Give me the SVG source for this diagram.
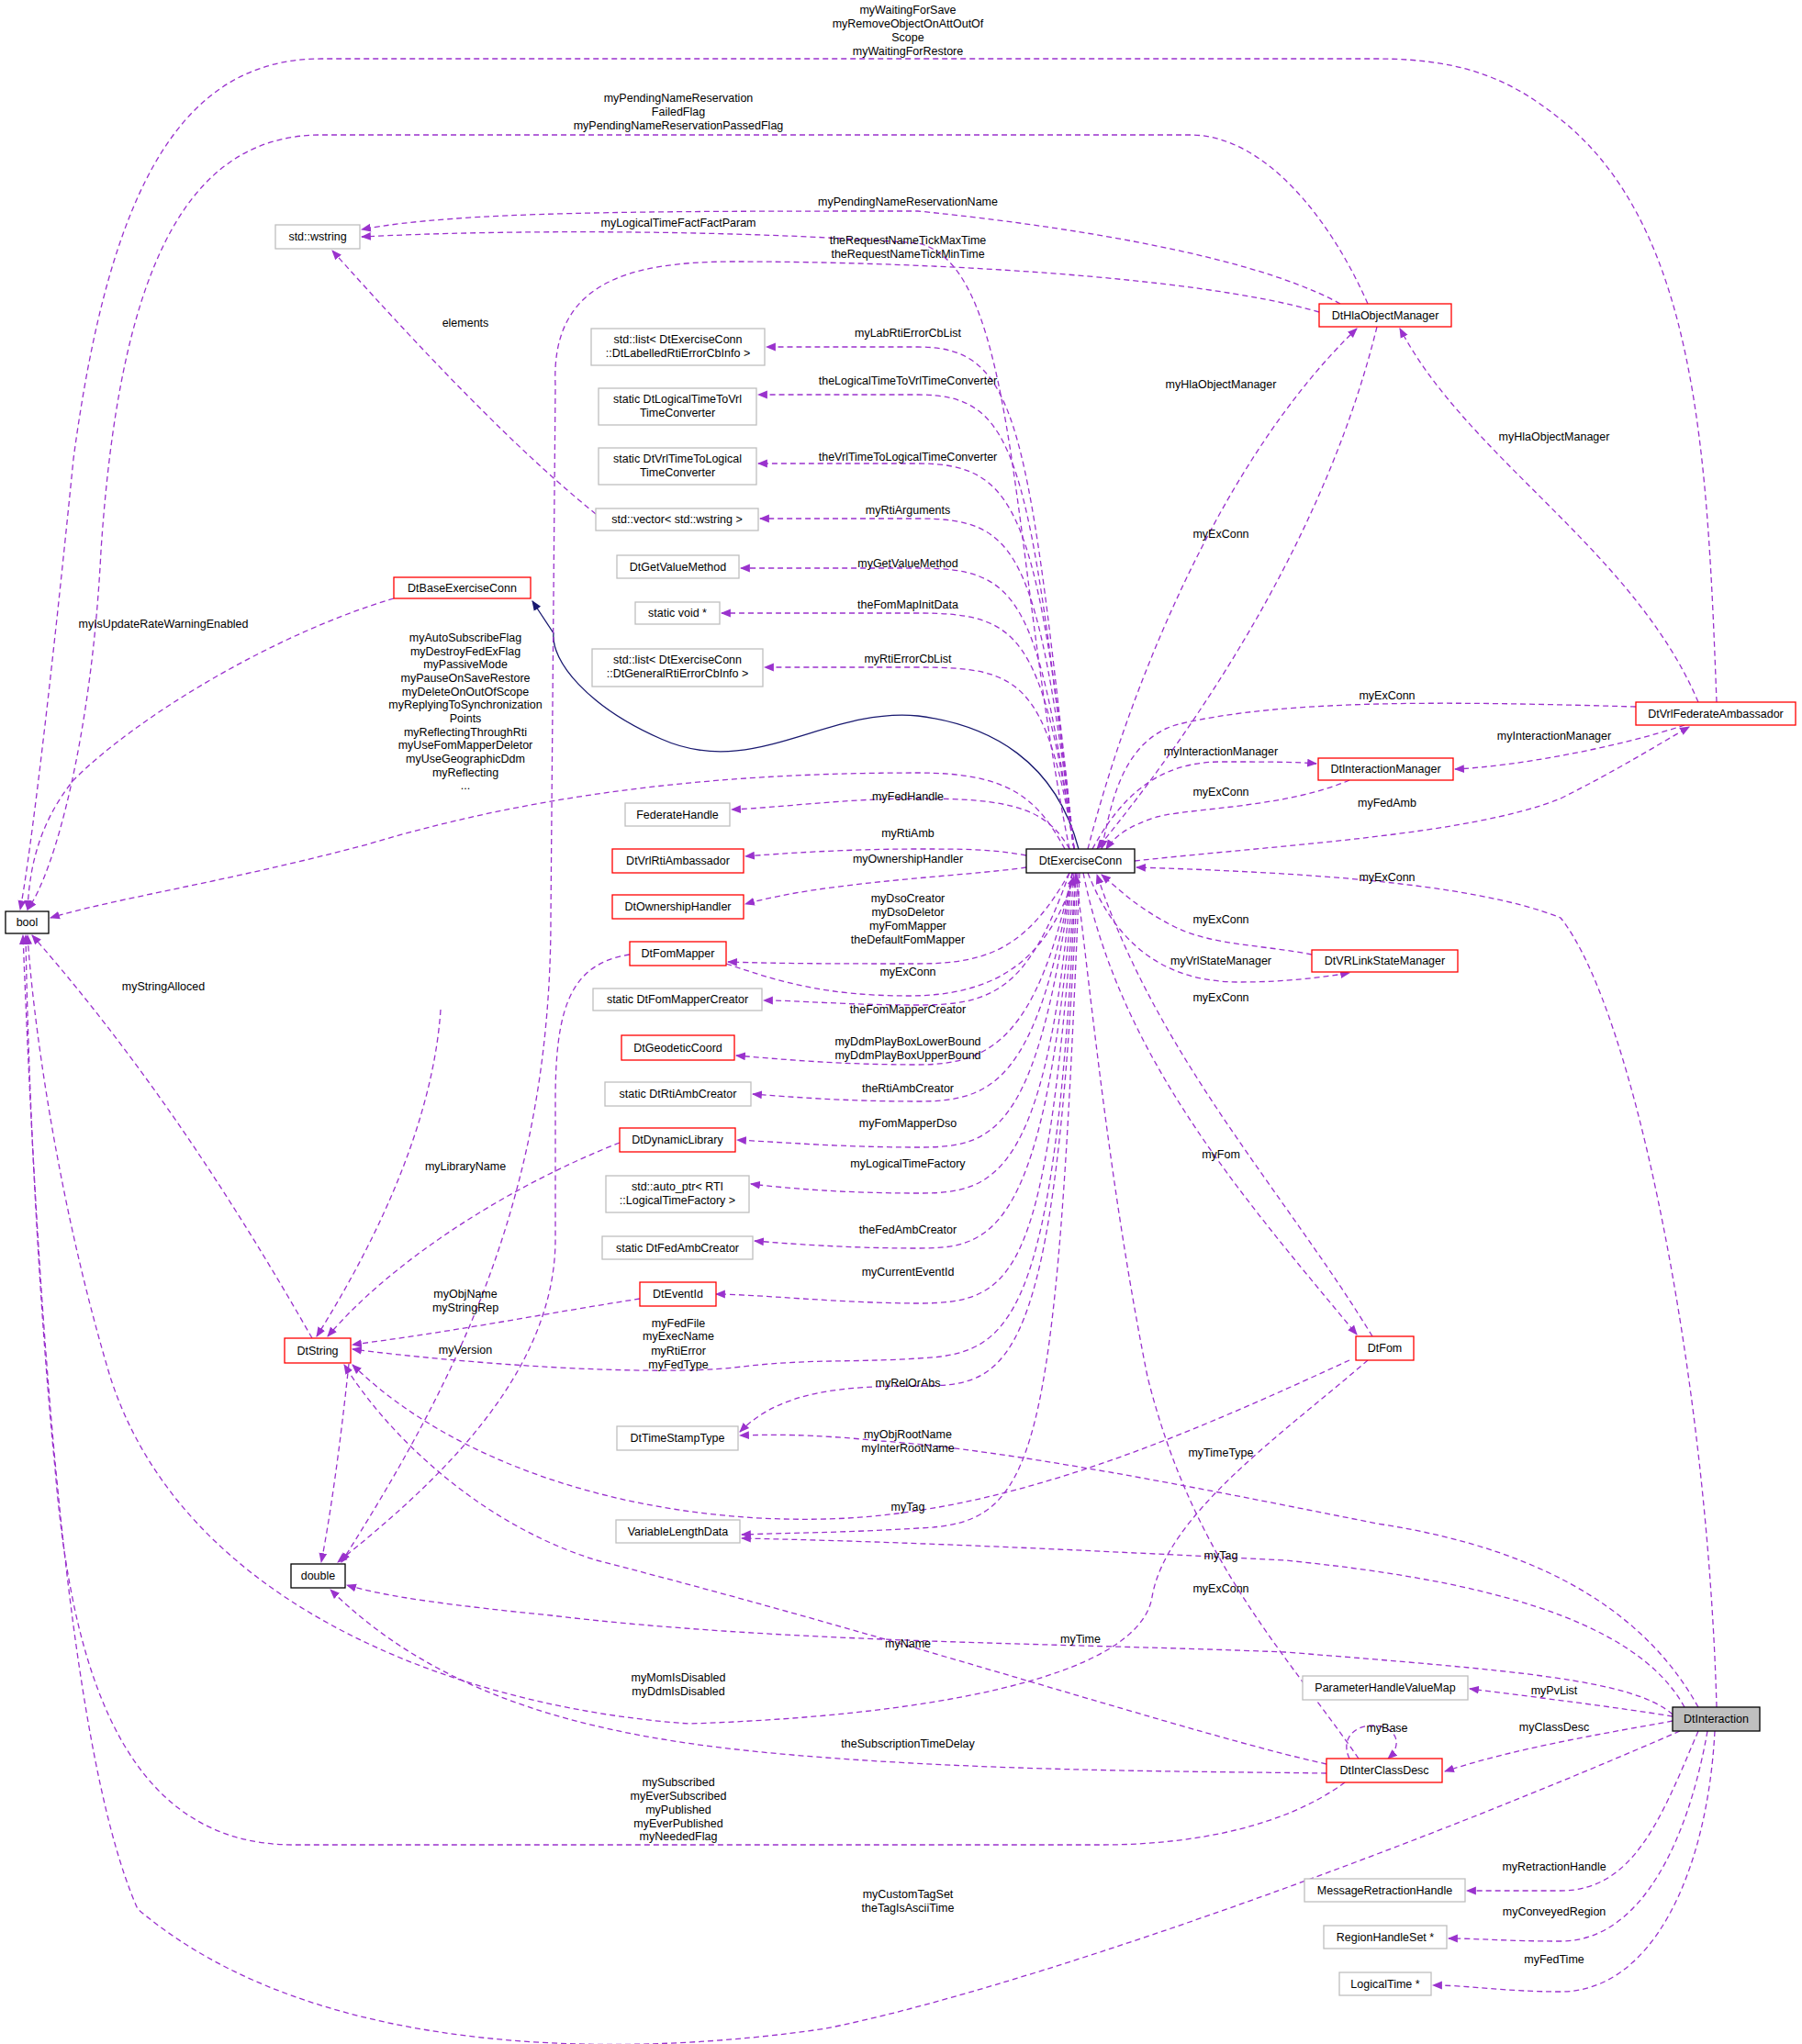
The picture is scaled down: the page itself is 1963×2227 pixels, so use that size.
<svg xmlns="http://www.w3.org/2000/svg" width="1963" height="2227" viewBox="0 0 1963 2227">
<style>
text{font-family:"Liberation Sans",Arial,sans-serif;font-size:12.5px;fill:#000}
.n text{text-anchor:middle}
.l{text-anchor:middle}
.g{fill:#fff;stroke:#bfbfbf;stroke-width:1.3}
.r{fill:#fff;stroke:#ff0000;stroke-width:1.3}
.b{fill:#fff;stroke:#000;stroke-width:1.3}
.e path{fill:none;stroke:#9a32cd;stroke-width:1.3;stroke-dasharray:6,4;marker-end:url(#a)}
.e path.s{stroke:#191970;stroke-dasharray:none;marker-end:url(#an)}
</style>
<defs>
<marker id="a" viewBox="0 0 10 10" refX="9" refY="5" markerWidth="11" markerHeight="11" markerUnits="userSpaceOnUse" orient="auto"><path d="M0,1 L10,5 L0,9 z" fill="#9a32cd"/></marker>
<marker id="an" viewBox="0 0 10 10" refX="9" refY="5" markerWidth="11" markerHeight="11" markerUnits="userSpaceOnUse" orient="auto"><path d="M0,1 L10,5 L0,9 z" fill="#191970"/></marker>
</defs>
<rect width="1963" height="2227" fill="#fff"/>
<g class="e" id="edges">
<path class="s" d="M1175,925 C1150,830 1080,790 1000,780 C900,770 820,850 720,805 C640,770 600,720 603,690 L580,655"/>
<path d="M1170,925 C1120,460 1110,378 1000,378 C920,378 880,378 835,378"/>
<path d="M1170,925 C1120,500 1110,430 1000,430 C920,430 870,430 826,430"/>
<path d="M1170,925 C1130,560 1110,505 1000,505 C920,505 870,505 826,505"/>
<path d="M1170,925 C1130,600 1110,565 1000,565 C920,565 870,565 828,565"/>
<path d="M1170,925 C1130,650 1110,619 1000,619 C920,619 850,619 807,619"/>
<path d="M1170,925 C1135,690 1110,668 1000,668 C900,668 830,668 786,668"/>
<path d="M1170,925 C1140,740 1110,727 1000,727 C920,727 870,727 833,727"/>
<path d="M1165,925 C1140,880 1100,870 1000,870 C920,870 850,880 797,882"/>
<path d="M1118,932 C1080,925 1050,925 1000,925 C920,925 850,930 812,933"/>
<path d="M1118,945 C1050,955 900,960 812,985"/>
<path d="M1165,951 C1120,1030 1080,1050 1000,1050 C920,1050 850,1050 793,1048"/>
<path d="M791,1050 C850,1070 900,1085 990,1085 C1080,1085 1140,1050 1170,955"/>
<path d="M1165,951 C1120,1080 1080,1095 1000,1095 C920,1095 870,1090 832,1090"/>
<path d="M1168,951 C1130,1130 1080,1160 1000,1160 C920,1160 860,1155 802,1150"/>
<path d="M1168,951 C1130,1180 1080,1200 1000,1200 C920,1200 860,1195 820,1192"/>
<path d="M1168,951 C1130,1240 1080,1250 1000,1250 C920,1250 860,1245 803,1242"/>
<path d="M1168,951 C1140,1290 1080,1300 1000,1300 C920,1300 860,1295 818,1290"/>
<path d="M1170,951 C1140,1350 1080,1360 1000,1360 C920,1360 860,1355 822,1352"/>
<path d="M1172,951 C1140,1390 1110,1420 1000,1420 C920,1420 820,1410 780,1410"/>
<path d="M1172,951 C1150,1450 1100,1475 1000,1480 C920,1485 880,1480 800,1490 C700,1500 500,1485 384,1470"/>
<path d="M1174,951 C1150,1500 1100,1510 1000,1510 C920,1510 850,1515 806,1560"/>
<path d="M1176,951 C1150,1600 1130,1660 1000,1665 C920,1670 860,1670 808,1672"/>
<path d="M1160,925 C1130,870 1100,842 1000,842 C800,842 600,860 400,920 C250,960 120,980 55,1000"/>
<path d="M1165,925 C1100,600 1110,290 1000,265 C800,250 550,250 394,258"/>
<path d="M1185,925 C1230,750 1330,500 1478,358"/>
<path d="M1500,356 C1450,560 1330,760 1195,925"/>
<path d="M1850,765 C1780,600 1600,500 1525,358"/>
<path d="M1782,770 C1600,765 1400,760 1280,790 C1220,810 1210,880 1200,925"/>
<path d="M1835,790 C1760,815 1650,835 1585,838"/>
<path d="M1236,938 C1400,920 1600,910 1700,870 C1760,840 1800,815 1840,792"/>
<path d="M1190,925 C1220,870 1260,830 1330,830 C1380,830 1410,830 1434,832"/>
<path d="M1470,850 C1400,880 1300,880 1260,890 C1230,900 1215,910 1205,925"/>
<path d="M1429,1040 C1380,1030 1320,1030 1280,1010 C1240,990 1220,970 1200,953"/>
<path d="M1185,951 C1220,1040 1280,1070 1350,1070 C1400,1070 1440,1065 1470,1060"/>
<path d="M1870,1860 C1860,1500 1780,1100 1700,1000 C1600,960 1400,950 1238,945"/>
<path d="M1180,951 C1220,1150 1350,1300 1478,1454"/>
<path d="M1495,1456 C1400,1300 1260,1150 1195,953"/>
<path d="M1470,1482 C1300,1560 1100,1650 900,1655 C700,1660 500,1600 384,1487"/>
<path d="M1490,1482 C1400,1560 1270,1650 1255,1740 C1240,1830 1000,1870 750,1878 C500,1860 200,1750 120,1500 C60,1300 35,1100 30,1019"/>
<path d="M1850,1860 C1800,1770 1700,1690 1500,1660 C1300,1620 1100,1580 960,1570 C880,1562 840,1563 806,1564"/>
<path d="M1835,1860 C1780,1760 1600,1720 1400,1700 C1200,1690 1000,1680 808,1676"/>
<path d="M1480,1916 C1400,1800 1300,1700 1250,1500 C1210,1300 1190,1100 1172,953"/>
<path d="M1822,1868 C1780,1830 1650,1820 1400,1800 C1150,1790 850,1790 600,1760 C500,1750 420,1740 378,1727"/>
<path d="M1445,1922 C1300,1890 1000,1790 650,1700 C520,1660 420,1560 375,1487"/>
<path d="M1445,1932 C1300,1930 1100,1930 900,1915 C700,1900 500,1870 360,1732"/>
<path d="M1465,1942 C1400,1990 1300,2010 1200,2010 L320,2010 C150,2010 80,1850 60,1600 C40,1400 30,1150 28,1019"/>
<path d="M1822,1870 C1760,1860 1680,1850 1601,1840"/>
<path d="M1822,1875 C1740,1890 1650,1905 1574,1930"/>
<path d="M1830,1886 C1500,2030 1100,2170 900,2210 C700,2240 350,2250 150,2080 C70,1900 40,1400 25,1019"/>
<path d="M1850,1886 C1810,1980 1780,2060 1700,2060 C1650,2060 1620,2060 1598,2060"/>
<path d="M1860,1886 C1840,2000 1790,2115 1700,2115 C1640,2115 1610,2112 1578,2112"/>
<path d="M1868,1886 C1860,2040 1800,2170 1700,2170 C1640,2170 1600,2163 1561,2163"/>
<path d="M1470,1916 C1460,1895 1475,1880 1495,1880 C1520,1880 1530,1900 1512,1916"/>
<path d="M1490,331 C1450,240 1380,150 1300,147 L350,147 C200,147 130,300 110,600 C100,800 60,950 30,991"/>
<path d="M1870,765 C1860,500 1850,250 1700,130 C1650,90 1600,64 1500,64 L350,64 C200,64 120,200 80,500 C50,800 30,950 22,991"/>
<path d="M1460,331 C1350,270 1100,240 1000,230 C700,230 500,230 394,250"/>
<path d="M1437,340 C1300,300 1000,285 800,285 C680,285 600,310 605,420 L600,1000 C600,1300 500,1500 372,1702"/>
<path d="M429,652 C300,690 150,780 80,850 C40,900 32,950 30,991"/>
<path d="M340,1458 C250,1300 150,1150 35,1019"/>
<path d="M649,560 C600,520 520,450 362,273"/>
<path d="M675,1245 C560,1290 430,1370 357,1456"/>
<path d="M697,1415 C600,1430 500,1450 384,1465"/>
<path d="M686,1040 C620,1050 605,1100 605,1200 L605,1350 C605,1500 470,1620 368,1702"/>
<path d="M480,1100 C470,1250 380,1400 345,1456"/>
<path d="M380,1486 C370,1580 360,1650 350,1702"/>
</g>
<g id="labels">
<text class="l" x="989" y="15">myWaitingForSave</text>
<text class="l" x="989" y="30">myRemoveObjectOnAttOutOf</text>
<text class="l" x="989" y="45">Scope</text>
<text class="l" x="989" y="60">myWaitingForRestore</text>
<text class="l" x="739" y="111">myPendingNameReservation</text>
<text class="l" x="739" y="126">FailedFlag</text>
<text class="l" x="739" y="141">myPendingNameReservationPassedFlag</text>
<text class="l" x="989" y="224">myPendingNameReservationName</text>
<text class="l" x="739" y="247">myLogicalTimeFactFactParam</text>
<text class="l" x="989" y="266">theRequestNameTickMaxTime</text>
<text class="l" x="989" y="281">theRequestNameTickMinTime</text>
<text class="l" x="507" y="356">elements</text>
<text class="l" x="989" y="367">myLabRtiErrorCbList</text>
<text class="l" x="989" y="419">theLogicalTimeToVrlTimeConverter</text>
<text class="l" x="989" y="502">theVrlTimeToLogicalTimeConverter</text>
<text class="l" x="989" y="560">myRtiArguments</text>
<text class="l" x="989" y="618">myGetValueMethod</text>
<text class="l" x="989" y="663">theFomMapInitData</text>
<text class="l" x="989" y="722">myRtiErrorCbList</text>
<text class="l" x="1330" y="423">myHlaObjectManager</text>
<text class="l" x="1330" y="586">myExConn</text>
<text class="l" x="1693" y="480">myHlaObjectManager</text>
<text class="l" x="178" y="684">myIsUpdateRateWarningEnabled</text>
<text class="l" x="507" y="699">myAutoSubscribeFlag</text>
<text class="l" x="507" y="714">myDestroyFedExFlag</text>
<text class="l" x="507" y="728">myPassiveMode</text>
<text class="l" x="507" y="743">myPauseOnSaveRestore</text>
<text class="l" x="507" y="758">myDeleteOnOutOfScope</text>
<text class="l" x="507" y="772">myReplyingToSynchronization</text>
<text class="l" x="507" y="787">Points</text>
<text class="l" x="507" y="802">myReflectingThroughRti</text>
<text class="l" x="507" y="816">myUseFomMapperDeletor</text>
<text class="l" x="507" y="831">myUseGeographicDdm</text>
<text class="l" x="507" y="846">myReflecting</text>
<text class="l" x="507" y="860">...</text>
<text class="l" x="1511" y="762">myExConn</text>
<text class="l" x="1693" y="806">myInteractionManager</text>
<text class="l" x="1330" y="823">myInteractionManager</text>
<text class="l" x="1330" y="867">myExConn</text>
<text class="l" x="989" y="872">myFedHandle</text>
<text class="l" x="1511" y="879">myFedAmb</text>
<text class="l" x="989" y="912">myRtiAmb</text>
<text class="l" x="989" y="940">myOwnershipHandler</text>
<text class="l" x="1511" y="960">myExConn</text>
<text class="l" x="989" y="983">myDsoCreator</text>
<text class="l" x="989" y="998">myDsoDeletor</text>
<text class="l" x="989" y="1013">myFomMapper</text>
<text class="l" x="989" y="1028">theDefaultFomMapper</text>
<text class="l" x="1330" y="1006">myExConn</text>
<text class="l" x="1330" y="1051">myVrlStateManager</text>
<text class="l" x="989" y="1063">myExConn</text>
<text class="l" x="178" y="1079">myStringAlloced</text>
<text class="l" x="1330" y="1091">myExConn</text>
<text class="l" x="989" y="1104">theFomMapperCreator</text>
<text class="l" x="989" y="1139">myDdmPlayBoxLowerBound</text>
<text class="l" x="989" y="1154">myDdmPlayBoxUpperBound</text>
<text class="l" x="989" y="1190">theRtiAmbCreator</text>
<text class="l" x="989" y="1228">myFomMapperDso</text>
<text class="l" x="1330" y="1262">myFom</text>
<text class="l" x="507" y="1275">myLibraryName</text>
<text class="l" x="989" y="1272">myLogicalTimeFactory</text>
<text class="l" x="989" y="1344">theFedAmbCreator</text>
<text class="l" x="989" y="1390">myCurrentEventId</text>
<text class="l" x="507" y="1414">myObjName</text>
<text class="l" x="507" y="1429">myStringRep</text>
<text class="l" x="739" y="1446">myFedFile</text>
<text class="l" x="739" y="1460">myExecName</text>
<text class="l" x="739" y="1476">myRtiError</text>
<text class="l" x="739" y="1491">myFedType</text>
<text class="l" x="507" y="1475">myVersion</text>
<text class="l" x="989" y="1511">myRelOrAbs</text>
<text class="l" x="989" y="1567">myObjRootName</text>
<text class="l" x="989" y="1582">myInterRootName</text>
<text class="l" x="1330" y="1587">myTimeType</text>
<text class="l" x="989" y="1646">myTag</text>
<text class="l" x="1330" y="1699">myTag</text>
<text class="l" x="1330" y="1735">myExConn</text>
<text class="l" x="1177" y="1790">myTime</text>
<text class="l" x="989" y="1795">myName</text>
<text class="l" x="739" y="1832">myMomIsDisabled</text>
<text class="l" x="739" y="1847">myDdmIsDisabled</text>
<text class="l" x="1693" y="1846">myPvList</text>
<text class="l" x="1511" y="1887">myBase</text>
<text class="l" x="1693" y="1886">myClassDesc</text>
<text class="l" x="989" y="1904">theSubscriptionTimeDelay</text>
<text class="l" x="739" y="1946">mySubscribed</text>
<text class="l" x="739" y="1961">myEverSubscribed</text>
<text class="l" x="739" y="1976">myPublished</text>
<text class="l" x="739" y="1991">myEverPublished</text>
<text class="l" x="739" y="2005">myNeededFlag</text>
<text class="l" x="1693" y="2038">myRetractionHandle</text>
<text class="l" x="989" y="2068">myCustomTagSet</text>
<text class="l" x="989" y="2083">theTagIsAsciiTime</text>
<text class="l" x="1693" y="2087">myConveyedRegion</text>
<text class="l" x="1693" y="2139">myFedTime</text>
</g>
<g class="n" id="bool"><rect class="b" x="6" y="993" width="47" height="24"/><text x="29.5" y="1009">bool</text></g>
<g class="n" id="double"><rect class="b" x="317" y="1704" width="59" height="26"/><text x="346.5" y="1721">double</text></g>
<g class="n" id="DtString"><rect class="r" x="310" y="1458" width="72" height="27"/><text x="346" y="1476">DtString</text></g>
<g class="n" id="wstring"><rect class="g" x="300" y="245" width="92" height="26"/><text x="346" y="262">std::wstring</text></g>
<g class="n" id="DtBaseExerciseConn"><rect class="r" x="429" y="629" width="149" height="23"/><text x="503.5" y="645">DtBaseExerciseConn</text></g>
<g class="n" id="DtExerciseConn"><rect class="b" x="1118" y="925" width="118" height="26"/><text x="1177" y="942">DtExerciseConn</text></g>
<g class="n" id="DtHlaObjectManager"><rect class="r" x="1437" y="331" width="144" height="25"/><text x="1509" y="348">DtHlaObjectManager</text></g>
<g class="n" id="DtVrlFederateAmbassador"><rect class="r" x="1782" y="765" width="174" height="25"/><text x="1869" y="782">DtVrlFederateAmbassador</text></g>
<g class="n" id="DtInteractionManager"><rect class="r" x="1436" y="826" width="147" height="24"/><text x="1509.5" y="842">DtInteractionManager</text></g>
<g class="n" id="DtVRLinkStateManager"><rect class="r" x="1429" y="1035" width="159" height="24"/><text x="1508.5" y="1051">DtVRLinkStateManager</text></g>
<g class="n" id="LabList"><rect class="g" x="644" y="358" width="189" height="40"/><text x="738.5" y="374">std::list&lt; DtExerciseConn</text><text x="738.5" y="389">::DtLabelledRtiErrorCbInfo &gt;</text></g>
<g class="n" id="LT2Vrl"><rect class="g" x="652" y="423" width="172" height="40"/><text x="738" y="439">static DtLogicalTimeToVrl</text><text x="738" y="454">TimeConverter</text></g>
<g class="n" id="Vrl2LT"><rect class="g" x="652" y="488" width="172" height="40"/><text x="738" y="504">static DtVrlTimeToLogical</text><text x="738" y="519">TimeConverter</text></g>
<g class="n" id="vector"><rect class="g" x="649" y="554" width="177" height="24"/><text x="737.5" y="570">std::vector&lt; std::wstring &gt;</text></g>
<g class="n" id="DtGetValueMethod"><rect class="g" x="672" y="605" width="133" height="25"/><text x="738.5" y="622">DtGetValueMethod</text></g>
<g class="n" id="staticvoid"><rect class="g" x="692" y="656" width="92" height="24"/><text x="738" y="672">static void *</text></g>
<g class="n" id="GenList"><rect class="g" x="645" y="707" width="186" height="41"/><text x="738" y="723">std::list&lt; DtExerciseConn</text><text x="738" y="738">::DtGeneralRtiErrorCbInfo &gt;</text></g>
<g class="n" id="FederateHandle"><rect class="g" x="681" y="875" width="114" height="25"/><text x="738" y="892">FederateHandle</text></g>
<g class="n" id="DtVrlRtiAmbassador"><rect class="r" x="667" y="925" width="143" height="26"/><text x="738.5" y="942">DtVrlRtiAmbassador</text></g>
<g class="n" id="DtOwnershipHandler"><rect class="r" x="667" y="975" width="143" height="26"/><text x="738.5" y="992">DtOwnershipHandler</text></g>
<g class="n" id="DtFomMapper"><rect class="r" x="686" y="1026" width="105" height="26"/><text x="738.5" y="1043">DtFomMapper</text></g>
<g class="n" id="FomMapperCreator"><rect class="g" x="646" y="1077" width="184" height="24"/><text x="738" y="1093">static DtFomMapperCreator</text></g>
<g class="n" id="DtGeodeticCoord"><rect class="r" x="677" y="1128" width="123" height="27"/><text x="738.5" y="1146">DtGeodeticCoord</text></g>
<g class="n" id="RtiAmbCreator"><rect class="g" x="659" y="1179" width="159" height="26"/><text x="738.5" y="1196">static DtRtiAmbCreator</text></g>
<g class="n" id="DtDynamicLibrary"><rect class="r" x="675" y="1229" width="126" height="26"/><text x="738" y="1246">DtDynamicLibrary</text></g>
<g class="n" id="autoptr"><rect class="g" x="660" y="1281" width="156" height="40"/><text x="738" y="1297">std::auto_ptr&lt; RTI</text><text x="738" y="1312">::LogicalTimeFactory &gt;</text></g>
<g class="n" id="FedAmbCreator"><rect class="g" x="656" y="1347" width="164" height="25"/><text x="738" y="1364">static DtFedAmbCreator</text></g>
<g class="n" id="DtEventId"><rect class="r" x="697" y="1397" width="83" height="26"/><text x="738.5" y="1414">DtEventId</text></g>
<g class="n" id="DtTimeStampType"><rect class="g" x="672" y="1554" width="132" height="26"/><text x="738" y="1571">DtTimeStampType</text></g>
<g class="n" id="VariableLengthData"><rect class="g" x="671" y="1656" width="135" height="25"/><text x="738.5" y="1673">VariableLengthData</text></g>
<g class="n" id="DtFom"><rect class="r" x="1477" y="1456" width="63" height="26"/><text x="1508.5" y="1473">DtFom</text></g>
<g class="n" id="PHVM"><rect class="g" x="1419" y="1826" width="180" height="26"/><text x="1509" y="1843">ParameterHandleValueMap</text></g>
<g class="n" id="DtInteraction"><rect x="1822" y="1860" width="95" height="26" fill="#bfbfbf" stroke="#000" stroke-width="1.3"/><text x="1869.5" y="1877">DtInteraction</text></g>
<g class="n" id="DtInterClassDesc"><rect class="r" x="1445" y="1916" width="126" height="26"/><text x="1508" y="1933">DtInterClassDesc</text></g>
<g class="n" id="MRH"><rect class="g" x="1421" y="2047" width="175" height="25"/><text x="1508.5" y="2064">MessageRetractionHandle</text></g>
<g class="n" id="RHS"><rect class="g" x="1442" y="2098" width="134" height="25"/><text x="1509" y="2115">RegionHandleSet *</text></g>
<g class="n" id="LogicalTime"><rect class="g" x="1459" y="2149" width="100" height="25"/><text x="1509" y="2166">LogicalTime *</text></g>
</svg>
